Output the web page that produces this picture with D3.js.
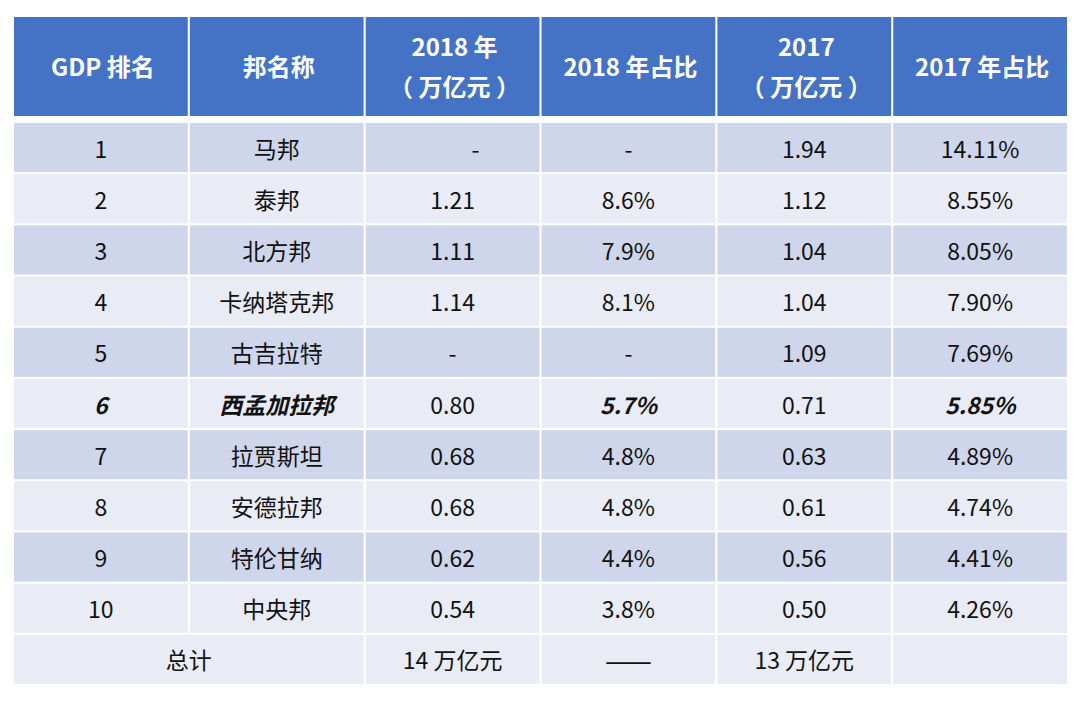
<!DOCTYPE html>
<html><head><meta charset="utf-8">
<script src="https://cdn.jsdelivr.net/npm/d3@7"></script>
<style>body{margin:0;background:#fff}svg{display:block}</style>
</head><body>
<script>
const headers = [["GDP 排名"],["邦名称"],["2018 年","（ 万亿元 ）"],["2018 年占比"],["2017","（ 万亿元 ）"],["2017 年占比"]];
const ranks = ["1","2","3","4","5","6","7","8","9","10"];
const states = ["马邦","泰邦","北方邦","卡纳塔克邦","古吉拉特","西孟加拉邦","拉贾斯坦","安德拉邦","特伦甘纳","中央邦"];
const gdp2018 = ["-","1.21","1.11","1.14","-","0.80","0.68","0.68","0.62","0.54"];
const share2018 = ["-","8.6%","7.9%","8.1%","-","5.7%","4.8%","4.8%","4.4%","3.8%"];
const gdp2017 = ["1.94","1.12","1.04","1.04","1.09","0.71","0.63","0.61","0.56","0.50"];
const share2017 = ["14.11%","8.55%","8.05%","7.90%","7.69%","5.85%","4.89%","4.74%","4.41%","4.26%"];
const totals = ["总计","14 万亿元","——","13 万亿元",""];
const highlightRow = 5;

const W=1080,H=703;
const svg=d3.select("body").append("svg").attr("width",W).attr("height",H);
const font="'Noto Sans CJK SC','Noto Sans',sans-serif";
const cols=d3.range(6);
const x=d3.scaleBand().domain(cols).range([14,1067]).paddingInner(0.012);
const rowIdx=d3.range(11);
const y=d3.scaleBand().domain(rowIdx).range([123,684]).paddingInner(0.04);

// header
const hg=svg.append("g");
cols.forEach(c=>{
  hg.append("rect").attr("x",x(c)).attr("y",17).attr("width",x.bandwidth()).attr("height",99).attr("fill","#4472C4");
  const lines=headers[c];
  const cx=x(c)+x.bandwidth()/2+2, cy=17+99/2+1;
  lines.forEach((t,i)=>{
    hg.append("text").attr("x",cx).attr("y",cy+(i-(lines.length-1)/2)*40)
      .attr("dy","0.35em").attr("text-anchor","middle").attr("fill","#fff")
      .attr("font-family",font).attr("font-weight","bold").attr("font-size",24).text(t);
  });
});

const rows=ranks.map((r,i)=>[r,states[i],gdp2018[i],share2018[i],gdp2017[i],share2017[i]]);
const bg=i=> i%2===0?"#CFD5EA":"#E9EBF5";
const bodyG=svg.append("g");
rows.forEach((row,i)=>{
  cols.forEach(c=>{
    bodyG.append("rect").attr("x",x(c)).attr("y",y(i)).attr("width",x.bandwidth()).attr("height",y.bandwidth()).attr("fill",bg(i));
    const hl = i===highlightRow && (c===0||c===1||c===3||c===5);
    let dx=0;
    if(i===0 && c===2) dx=23;
    bodyG.append("text").attr("x",x(c)+x.bandwidth()/2+dx).attr("y",y(i)+y.bandwidth()/2+2)
      .attr("dy","0.35em").attr("text-anchor","middle").attr("fill","#111")
      .attr("font-family",font).attr("font-size",23)
      .attr("font-weight",hl?"bold":"normal").attr("font-style",hl?"italic":"normal")
      .text(row[c]);
  });
});
// totals row
const ti=10;
const spans=[[0,1],[2,2],[3,3],[4,4],[5,5]];
spans.forEach(([a,b],k)=>{
  const x0=x(a), x1=x(b)+x.bandwidth();
  const isDash = totals[k]==="——";
  bodyG.append("rect").attr("x",x0).attr("y",y(ti)).attr("width",x1-x0).attr("height",y.bandwidth()).attr("fill","#E9EBF5");
  bodyG.append("text").attr("x",(x0+x1)/2).attr("y",y(ti)+y.bandwidth()/2+2)
    .attr("dy","0.35em").attr("text-anchor","middle").attr("fill","#111")
    .attr("font-family",font).attr("font-size",isDash?28:23)
    .text(totals[k]);
});
</script>
</body></html>
